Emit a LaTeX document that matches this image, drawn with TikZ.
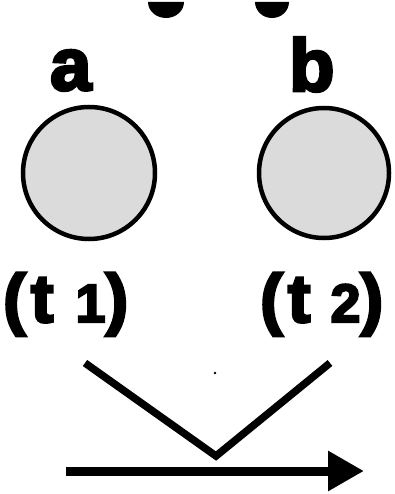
\documentclass[tikz,border=0pt]{standalone}
\usepackage{fontspec}
\newfontfamily\heavy[FakeBold=4]{Liberation Sans}
\usetikzlibrary{arrows.meta}
\begin{document}
\begin{tikzpicture}[x=1bp,y=-1bp,
  ball/.style={draw=black,line width=4.5bp,fill=gray!28},
  heavyline/.style={line width=7.5bp},
  lbl/.style={inner sep=0pt,anchor=base west,font=\heavy\bfseries}]
\useasboundingbox (0,0) rectangle (394,494);
% cut-off shapes at the top
\fill (166,2) -- (148,2) arc [start angle=180,end angle=360,x radius=18bp,y radius=16bp] -- cycle;
\fill (272,2) -- (255,2) arc [start angle=180,end angle=360,x radius=17bp,y radius=16bp] -- cycle;
% labels a, b
\node[lbl,font=\heavy\bfseries\fontsize{74bp}{74bp}\selectfont] (la) at (50,90) {a};
\node[lbl,font=\heavy\bfseries\fontsize{74bp}{74bp}\selectfont] (lb) at (289,91) {b};
% balls
\node[ball,circle,minimum size=132bp,inner sep=0pt] (ca) at (89,173) {};
\node[ball,circle,minimum size=130bp,inner sep=0pt] (cb) at (324,173) {};
% times
\node[lbl,font=\heavy\bfseries\fontsize{68bp}{68bp}\selectfont] (ta) at (3,322) {(\hspace{5bp}t\hspace{22bp}{\fontsize{54bp}{54bp}\selectfont 1})};
\node[lbl,font=\heavy\bfseries\fontsize{68bp}{68bp}\selectfont] (tb) at (260,322) {(\hspace{5bp}t\hspace{20bp}{\fontsize{54bp}{54bp}\selectfont 2})};
% V
\coordinate (v1) at (85,363);
\coordinate (v0) at (216,456);
\coordinate (v2) at (330,363);
\draw[heavyline,line join=miter] (v1) -- (v0) -- (v2);
\fill (215,373) circle (1.3bp);
% arrow
\coordinate (as) at (66,471);
\coordinate (ae) at (364,471);
\draw[line width=9bp,-{Triangle[length=36bp,width=38bp]}] (as) -- (ae);
\end{tikzpicture}
\end{document}
